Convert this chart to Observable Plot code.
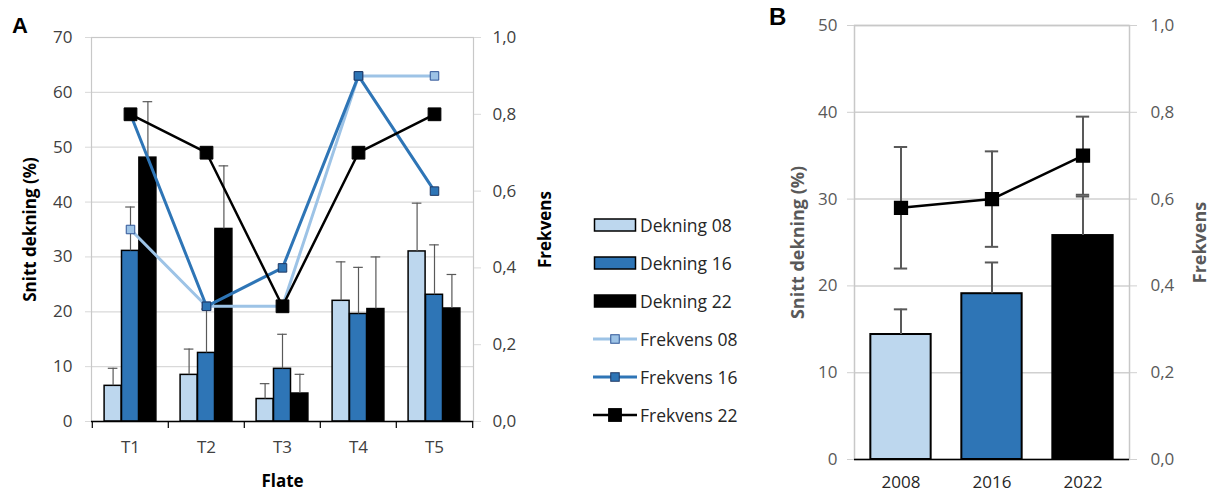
<!DOCTYPE html>
<html>
<head>
<meta charset="utf-8">
<script src="https://cdn.jsdelivr.net/npm/d3@7"></script>
<script src="https://cdn.jsdelivr.net/npm/@observablehq/plot@0.6"></script>
<style>
  html, body { margin: 0; padding: 0; background: #fff; }
  #wrap { position: relative; width: 1211px; height: 495px; overflow: hidden; font-family: "Open Sans", sans-serif; }
  .panel { position: absolute; top: 0; }
  .plabel { position: absolute; font-family: "Liberation Sans", Arial, sans-serif; font-weight: bold; color: #000; line-height: 1; }
  #legend { position: absolute; left: 593px; top: 0; font-size: 17.5px; color: #262626; }
  .lrow { position: absolute; left: 0; display: flex; align-items: center; white-space: nowrap; transform: translateY(-50%); }
  .lrow svg { margin-right: 3px; }
</style>
</head>
<body>
<div id="wrap">
  <div class="panel" id="panelA" style="left:0"></div>
  <div class="panel" id="panelB" style="left:760px"></div>
  <div id="legend"></div>
  <div class="plabel" style="left:12px; top:15px; font-size:22px">A</div>
  <div class="plabel" style="left:769px; top:5px; font-size:24px">B</div>
</div>
<script>
// ---------- Panel A data ----------
const flate = ["T1", "T2", "T3", "T4", "T5"];
const dekning08 = [6.5, 8.5, 4.1, 22.0, 31.0];
const dekning16 = [31.1, 12.5, 9.6, 19.6, 23.1];
const dekning22 = [48.1, 35.1, 5.1, 20.5, 20.6];
const feil08 = [3.2, 4.7, 2.8, 7.1, 8.8];
const feil16 = [8.0, 8.0, 6.3, 8.5, 9.1];
const feil22 = [10.2, 11.5, 3.5, 9.5, 6.2];
const frekvens08 = [0.5, 0.3, 0.3, 0.9, 0.9];
const frekvens16 = [0.8, 0.3, 0.4, 0.9, 0.6];
const frekvens22 = [0.8, 0.7, 0.3, 0.7, 0.8];
const leftTicksA = [0, 10, 20, 30, 40, 50, 60, 70];
const rightTicksA = [0, 0.2, 0.4, 0.6, 0.8, 1.0];

// ---------- Panel B data ----------
const aar = ["2008", "2016", "2022"];
const dekningTot = [14.4, 19.1, 25.8];
const feilTot = [2.9, 3.6, 4.5];
const frekvensTot = [0.58, 0.60, 0.70];
const frekFeilTot = [0.14, 0.11, 0.09];
const leftTicksB = [0, 10, 20, 30, 40, 50];
const rightTicksB = [0, 0.2, 0.4, 0.6, 0.8, 1.0];

const legendLabels = ["Dekning 08", "Dekning 16", "Dekning 22", "Frekvens 08", "Frekvens 16", "Frekvens 22"];

// ---------- styles ----------
const barFills = ["#BDD7EE", "#2E75B6", "#000000"];
const lineColors = ["#9DC3E6", "#2E75B6", "#000000"];
const dotFills = ["#9DC3E6", "#2E75B6", "#000000"];
const dotStrokes = ["#2F5597", "#1F3864", "#000000"];
const dotR = [4.8, 4.8, 7.2];
const lineW = [3, 3, 2.5];
const fmt = v => v.toFixed(1).replace(".", ",");
const font = "'Open Sans', sans-serif";

// ---------- Panel A ----------
{
  const W = 580, H = 495, m = {top: 37, right: 107, bottom: 74, left: 91};
  const maxL = 70, maxR = 1.0, k = maxL / maxR;
  const bw = (W - m.left - m.right) / flate.length;
  const barW = 17.4, capW = 10;
  const unitsPerPx = maxL / (H - m.top - m.bottom);
  const series = [
    {dek: dekning08, feil: feil08, frek: frekvens08},
    {dek: dekning16, feil: feil16, frek: frekvens16},
    {dek: dekning22, feil: feil22, frek: frekvens22}
  ].map(s => flate.map((f, i) => ({flate: f, dek: s.dek[i], top: s.dek[i] + s.feil[i], frek: s.frek[i] * k})));

  const marks = [
    Plot.gridY(leftTicksA, {stroke: "#d9d9d9", strokeOpacity: 1, strokeWidth: 1.2}),
    Plot.frame({stroke: "#c8c8c8", strokeWidth: 1.2}),
    Plot.axisY({ticks: leftTicksA, anchor: "left", tickSize: 6, tickPadding: 13, stroke: "#d9d9d9", fill: "#404040", label: null}),
    Plot.axisY({ticks: rightTicksA.map(v => v * k), anchor: "right", tickSize: 7, tickPadding: 12,
      tickFormat: d => fmt(d / k), stroke: "#d9d9d9", fill: "#404040", label: null}),
    Plot.axisX({tickSize: 0, tickPadding: 19, fill: "#404040", label: null})
  ];
  series.forEach((rows, j) => {
    const dx = (j - 1) * barW;
    marks.push(
      Plot.barY(rows, {x: "flate", y: "dek", fill: barFills[j], stroke: "#000", strokeWidth: 1.5,
        insetLeft: (bw - barW) / 2, insetRight: (bw - barW) / 2, dx}),
      Plot.ruleX(rows, {x: "flate", y1: "dek", y2: "top", dx, stroke: "#595959", strokeWidth: 1.2}),
      Plot.tickY(rows, {x: "flate", y: "top", dx, stroke: "#595959", strokeWidth: 1.2,
        insetLeft: (bw - capW) / 2, insetRight: (bw - capW) / 2})
    );
  });
  marks.push(
    Plot.ruleY([0], {stroke: "#000", strokeWidth: 1.5}),
    Plot.ruleX(flate, {x: d => d, dx: -bw / 2, y1: 0, y2: -7 * unitsPerPx, stroke: "#000", strokeWidth: 1.2}),
    Plot.ruleX(flate.slice(-1), {x: d => d, dx: bw / 2, y1: 0, y2: -7 * unitsPerPx, stroke: "#000", strokeWidth: 1.2})
  );
  series.forEach((rows, j) => {
    marks.push(
      Plot.line(rows, {x: "flate", y: "frek", stroke: lineColors[j], strokeWidth: lineW[j]}),
      Plot.dot(rows, {x: "flate", y: "frek", symbol: "square", r: dotR[j], fill: dotFills[j], stroke: dotStrokes[j], strokeWidth: 1})
    );
  });
  marks.push(
    Plot.text(["Snitt dekning (%)"], {frameAnchor: "left", dx: -61, rotate: -90, textAnchor: "middle", lineAnchor: "middle", fontWeight: "bold", fill: "#000", fontSize: 17}),
    Plot.text(["Frekvens"], {frameAnchor: "right", dx: 72, rotate: -90, textAnchor: "middle", lineAnchor: "middle", fontWeight: "bold", fill: "#000", fontSize: 17}),
    Plot.text(["Flate"], {frameAnchor: "bottom", dy: 60, textAnchor: "middle", lineAnchor: "middle", fontWeight: "bold", fill: "#000", fontSize: 17})
  );

  const chart = Plot.plot({
    width: W, height: H,
    marginTop: m.top, marginRight: m.right, marginBottom: m.bottom, marginLeft: m.left,
    x: {type: "band", domain: flate, padding: 0},
    y: {domain: [0, maxL]},
    style: {fontSize: "17px", fontFamily: font, background: "transparent", overflow: "visible"},
    marks
  });
  document.getElementById("panelA").appendChild(chart);
}

// ---------- Legend ----------
{
  const leg = document.getElementById("legend");
  const rowsY = [225, 263, 301, 339, 377, 415];
  legendLabels.forEach((lab, i) => {
    const row = document.createElement("div");
    row.className = "lrow";
    row.style.top = rowsY[i] + "px";
    let sw;
    if (i < 3) {
      sw = `<svg width="44" height="16"><rect x="1.5" y="2" width="41" height="12" fill="${barFills[i]}" stroke="#000" stroke-width="1.5"/></svg>`;
    } else {
      const j = i - 3;
      const s = dotR[j] * Math.sqrt(Math.PI);
      sw = `<svg width="44" height="16"><line x1="0" x2="44" y1="8" y2="8" stroke="${lineColors[j]}" stroke-width="${lineW[j]}"/>` +
        `<rect x="${22 - s / 2}" y="${8 - s / 2}" width="${s}" height="${s}" fill="${dotFills[j]}" stroke="${dotStrokes[j]}" stroke-width="1"/></svg>`;
    }
    row.innerHTML = sw + `<span>${lab}</span>`;
    leg.appendChild(row);
  });
}

// ---------- Panel B ----------
{
  const W = 451, H = 495, m = {top: 25, right: 82, bottom: 36, left: 94};
  const maxL = 50, maxR = 1.0, k = maxL / maxR;
  const bw = (W - m.left - m.right) / aar.length;
  const barW = 61, capW = 14;
  const rows = aar.map((a, i) => ({
    aar: a, dek: dekningTot[i], top: dekningTot[i] + feilTot[i],
    frek: frekvensTot[i] * k, f1: (frekvensTot[i] - frekFeilTot[i]) * k, f2: (frekvensTot[i] + frekFeilTot[i]) * k
  }));
  const inset = (bw - barW) / 2, capInset = (bw - capW) / 2;
  const chart = Plot.plot({
    width: W, height: H,
    marginTop: m.top, marginRight: m.right, marginBottom: m.bottom, marginLeft: m.left,
    x: {type: "band", domain: aar, padding: 0},
    y: {domain: [0, maxL]},
    color: {domain: aar, range: barFills},
    style: {fontSize: "17px", fontFamily: font, background: "transparent", overflow: "visible"},
    marks: [
      Plot.gridY(leftTicksB, {stroke: "#d0d0d0", strokeOpacity: 1, strokeWidth: 1.5}),
      Plot.frame({stroke: "#c8c8c8", strokeWidth: 1.5}),
      Plot.axisY({ticks: leftTicksB, anchor: "left", tickSize: 7, tickPadding: 10, stroke: "#d0d0d0", fill: "#595959", label: null}),
      Plot.axisY({ticks: rightTicksB.map(v => v * k), anchor: "right", tickSize: 7, tickPadding: 14,
        tickFormat: d => fmt(d / k), stroke: "#d0d0d0", fill: "#595959", label: null}),
      Plot.axisX({tickSize: 0, tickPadding: 16, fill: "#262626", label: null}),
      Plot.barY(rows, {x: "aar", y: "dek", fill: "aar", stroke: "#000", strokeWidth: 2, insetLeft: inset, insetRight: inset}),
      Plot.ruleX(rows, {x: "aar", y1: "dek", y2: "top", stroke: "#595959", strokeWidth: 2}),
      Plot.tickY(rows, {x: "aar", y: "top", stroke: "#595959", strokeWidth: 2, insetLeft: capInset, insetRight: capInset}),
      Plot.ruleY([0], {stroke: "#000", strokeWidth: 1.5}),
      Plot.ruleX(rows, {x: "aar", y1: "f1", y2: "f2", stroke: "#595959", strokeWidth: 2}),
      Plot.tickY(rows, {x: "aar", y: "f1", stroke: "#595959", strokeWidth: 2, insetLeft: capInset, insetRight: capInset}),
      Plot.tickY(rows, {x: "aar", y: "f2", stroke: "#595959", strokeWidth: 2, insetLeft: capInset, insetRight: capInset}),
      Plot.line(rows, {x: "aar", y: "frek", stroke: "#000", strokeWidth: 2.5}),
      Plot.dot(rows, {x: "aar", y: "frek", symbol: "square", r: 7.2, fill: "#000", stroke: "#000"}),
      Plot.text(["Snitt dekning (%)"], {frameAnchor: "left", dx: -56, rotate: -90, textAnchor: "middle", lineAnchor: "middle", fontWeight: "bold", fill: "#595959", fontSize: 18}),
      Plot.text(["Frekvens"], {frameAnchor: "right", dx: 71, rotate: -90, textAnchor: "middle", lineAnchor: "middle", fontWeight: "bold", fill: "#595959", fontSize: 18})
    ]
  });
  document.getElementById("panelB").appendChild(chart);
}
</script>
</body>
</html>
